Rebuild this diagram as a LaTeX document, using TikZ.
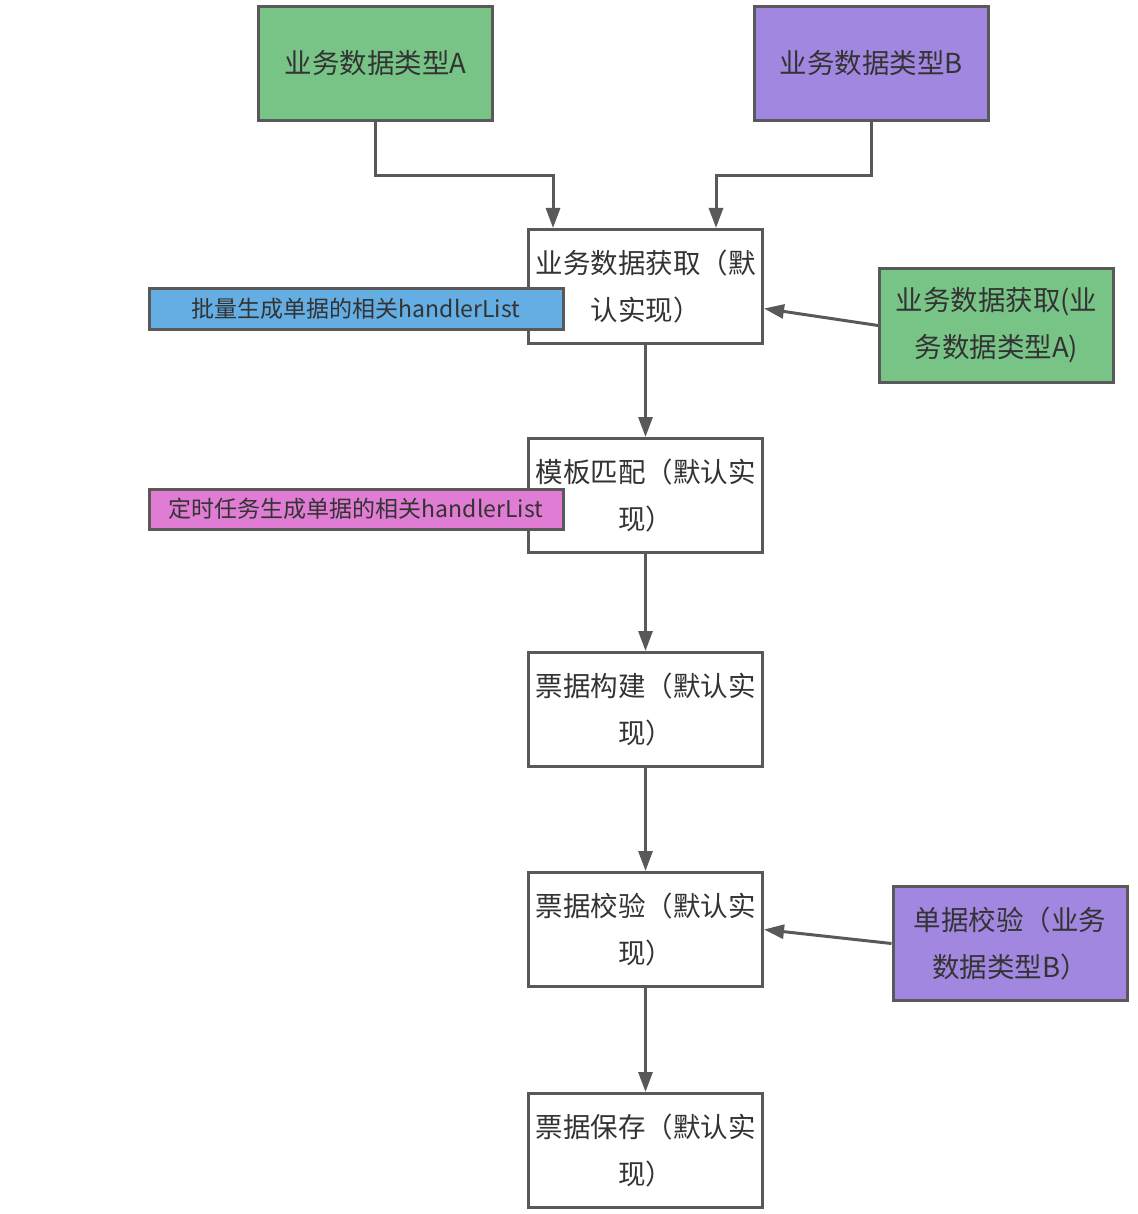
\documentclass[tikz,border=0pt]{standalone}
\usepackage{fontspec}
\setmainfont{Noto Sans CJK SC}
\usepackage{tikz}
\usetikzlibrary{arrows.meta, positioning}

\definecolor{linegray}{HTML}{595959}
\definecolor{txtgray}{HTML}{333333}
\definecolor{typegreen}{HTML}{78C487}
\definecolor{typepurple}{HTML}{A287E0}
\definecolor{tagblue}{HTML}{64AEE3}
\definecolor{tagpink}{HTML}{E07CD3}

\begin{document}
\begin{tikzpicture}[x=1pt, y=-1pt,
    stepbox/.style={draw=linegray, line width=3pt, fill=white, minimum width=234pt, minimum height=114pt,
        inner sep=0pt, align=center, text=txtgray, font=\fontsize{27.5}{47}\selectfont},
    tagbox/.style={draw=linegray, line width=3pt, minimum width=414pt, minimum height=40pt,
        inner sep=0pt, text=txtgray, font=\fontsize{23}{28}\selectfont},
    flow/.style={draw=linegray, line width=3pt, -{Triangle[length=20pt, width=14pt]}}]

    \useasboundingbox (0,0) rectangle (1137,1214);

    % Nodes for the two business data types
    \node (typeA) [stepbox, fill=typegreen] at (375.5,63.5) {业务数据类型A};
    \node (typeB) [stepbox, fill=typepurple] at (871.5,63.5) {业务数据类型B};

    % Main chain of default steps, one below the other
    \node (fetch) [stepbox] at (645.5,286.5) {业务数据获取（默\\认实现）};
    \node (match) [stepbox, below=92pt of fetch] {模板匹配（默认实\\现）};
    \node (build) [stepbox, below=97pt of match] {票据构建（默认实\\现）};
    \node (check) [stepbox, below=103pt of build] {票据校验（默认实\\现）};
    \node (save) [stepbox, below=104pt of check] {票据保存（默认实\\现）};

    % Overrides on the right
    \node (fetchA) [stepbox, fill=typegreen] at (996.5,325.5) {业务数据获取(业\\务数据类型A)};
    \node (checkB) [stepbox, fill=typepurple] at (1010,943.5) {单据校验（业务\\数据类型B）};

    % Handler list tags on the left, over the boxes
    \node (batchList) [tagbox, fill=tagblue] at (356,309) {批量生成单据的相关handlerList};
    \node (timerList) [tagbox, fill=tagpink] at (356,509) {定时任务生成单据的相关handlerList};

    % Entry points on the top of the fetch box
    \coordinate (fetchInA) at ([xshift=-92.5pt]fetch.north);
    \coordinate (fetchInB) at ([xshift=70.5pt]fetch.north);

    % Draw arrows
    \draw[flow] (typeA.south) -- ++(0,54) -| (fetchInA);
    \draw[flow] (typeB.south) -- ++(0,54) -| (fetchInB);
    \draw[flow] (fetch) -- (match);
    \draw[flow] (match) -- (build);
    \draw[flow] (build) -- (check);
    \draw[flow] (check) -- (save);
    \draw[flow] (fetchA.west) -- ([yshift=-22pt]fetch.east);
    \draw[flow] (checkB.west) -- (check.east);

\end{tikzpicture}
\end{document}
